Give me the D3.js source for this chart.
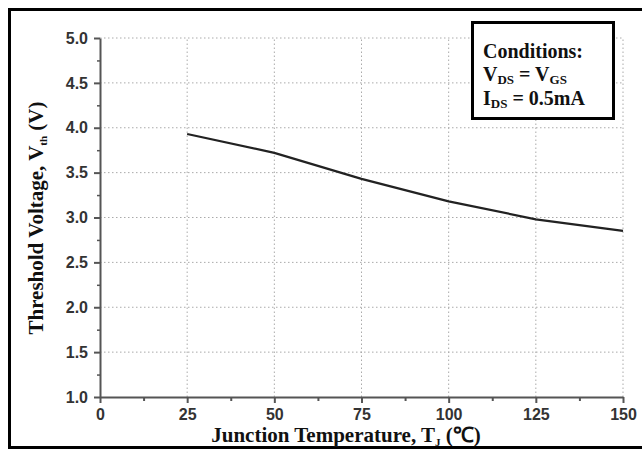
<!DOCTYPE html>
<html>
<head>
<meta charset="utf-8">
<script src="https://cdn.jsdelivr.net/npm/d3@7"></script>
<style>
  body { margin: 0; background: #fff; }
  .tick text { font-family: Arial, "Liberation Sans", sans-serif; font-weight: bold; font-size: 16px; fill: #333; }
  .axis path, .axis line { stroke: #555; }
  .grid line { stroke: #aaa; stroke-dasharray: 1.5,2.5; }
  .title { font-family: "Liberation Serif", "Times New Roman", serif; font-weight: bold; fill: #111; }
</style>
</head>
<body>
<div id="chart"></div>
<script>
// data
const temperatures = [25, 50, 75, 100, 125, 150]
const thresholdVoltage = [3.93, 3.72, 3.43, 3.18, 2.98, 2.85]
const xTicks = [0, 25, 50, 75, 100, 125, 150]
const yTicks = [1.0, 1.5, 2.0, 2.5, 3.0, 3.5, 4.0, 4.5, 5.0]
const xMinorTicks = [12.5, 37.5, 62.5, 87.5, 112.5, 137.5]
const yMinorTicks = [1.25, 1.75, 2.25, 2.75, 3.25, 3.75, 4.25, 4.75]

const width = 642
const height = 450
const margin = { left: 100, right: 19, top: 38, bottom: 53 }

const svg = d3.select('#chart')
  .append('svg')
  .attr('width', width)
  .attr('height', height)

const x = d3.scaleLinear().domain([0, 150]).range([margin.left, width - margin.right])
const y = d3.scaleLinear().domain([1, 5]).range([height - margin.bottom, margin.top])

// outer frame (right side runs off the picture)
svg.append('rect')
  .attr('x', 9.5).attr('y', 9.5)
  .attr('width', 660).attr('height', 438)
  .attr('fill', 'none')
  .attr('stroke', '#000')
  .attr('stroke-width', 3)

// dotted grid
const grid = svg.append('g').attr('class', 'grid')
grid.selectAll('.gx')
  .data(xTicks.slice(1))
  .join('line')
  .attr('x1', d => x(d)).attr('x2', d => x(d))
  .attr('y1', y(1)).attr('y2', y(5))
grid.selectAll('.gy')
  .data(yTicks.slice(1))
  .join('line')
  .attr('x1', x(0)).attr('x2', x(150))
  .attr('y1', d => y(d)).attr('y2', d => y(d))

// minor ticks
svg.append('g')
  .attr('class', 'axis')
  .attr('transform', 'translate(0,' + y(1) + ')')
  .call(d3.axisBottom(x).tickValues(xMinorTicks).tickSize(4).tickFormat(''))
  .call(g => g.select('.domain').remove())
  .selectAll('line').attr('stroke-width', 2)
svg.append('g')
  .attr('class', 'axis')
  .attr('transform', 'translate(' + x(0) + ',0)')
  .call(d3.axisLeft(y).tickValues(yMinorTicks).tickSize(3).tickFormat(''))
  .call(g => g.select('.domain').remove())
  .selectAll('line').attr('stroke-width', 1.5)

// major axes
const xAxis = svg.append('g')
  .attr('class', 'axis')
  .attr('transform', 'translate(0,' + y(1) + ')')
  .call(d3.axisBottom(x).tickValues(xTicks).tickSize(6).tickSizeOuter(0).tickPadding(6))
xAxis.select('.domain').attr('stroke-width', 2)
xAxis.selectAll('line').attr('stroke-width', 2)

const yAxis = svg.append('g')
  .attr('class', 'axis')
  .attr('transform', 'translate(' + x(0) + ',0)')
  .call(d3.axisLeft(y).tickValues(yTicks).tickSize(6).tickSizeOuter(0).tickPadding(6)
    .tickFormat(d3.format('.1f')))
yAxis.select('.domain').attr('stroke-width', 2)
yAxis.selectAll('line').attr('stroke-width', 2)

// data line
const points = temperatures.map((t, i) => [t, thresholdVoltage[i]])
svg.append('path')
  .datum(points)
  .attr('fill', 'none')
  .attr('stroke', '#222')
  .attr('stroke-width', 2.2)
  .attr('d', d3.line().x(d => x(d[0])).y(d => y(d[1])))

// axis titles
const xTitle = svg.append('text')
  .attr('class', 'title')
  .attr('x', 346)
  .attr('y', 442)
  .attr('text-anchor', 'middle')
  .style('font-size', '21px')
xTitle.append('tspan').text('Junction Temperature, T')
xTitle.append('tspan').text('J').style('font-size', '11px').attr('dy', 4)
xTitle.append('tspan').text(' (℃)').attr('dy', -4)

const yTitle = svg.append('text')
  .attr('class', 'title')
  .attr('transform', 'translate(43,218) rotate(-90)')
  .attr('text-anchor', 'middle')
  .style('font-size', '21px')
yTitle.append('tspan').text('Threshold Voltage, V')
yTitle.append('tspan').text('th').style('font-size', '11px').attr('dy', 4)
yTitle.append('tspan').text(' (V)').attr('dy', -4)

// conditions box
svg.append('rect')
  .attr('x', 472.5).attr('y', 22.5)
  .attr('width', 141).attr('height', 96)
  .attr('fill', '#fff')
  .attr('stroke', '#000')
  .attr('stroke-width', 3)

const lines = [
  [['Conditions:', false]],
  [['V', false], ['DS', true], [' = V', false], ['GS', true]],
  [['I', false], ['DS', true], [' = 0.5mA', false]]
]
const baselines = [58, 81, 105]
lines.forEach((parts, i) => {
  const t = svg.append('text')
    .attr('class', 'title')
    .attr('x', 483)
    .attr('y', baselines[i])
    .style('font-size', '20px')
  let sub = false
  parts.forEach(([s, isSub]) => {
    const sp = t.append('tspan').text(s)
    if (isSub && !sub) sp.attr('dy', 3)
    if (!isSub && sub) sp.attr('dy', -3)
    if (isSub) sp.style('font-size', '13px')
    sub = isSub
  })
})
</script>
</body>
</html>
